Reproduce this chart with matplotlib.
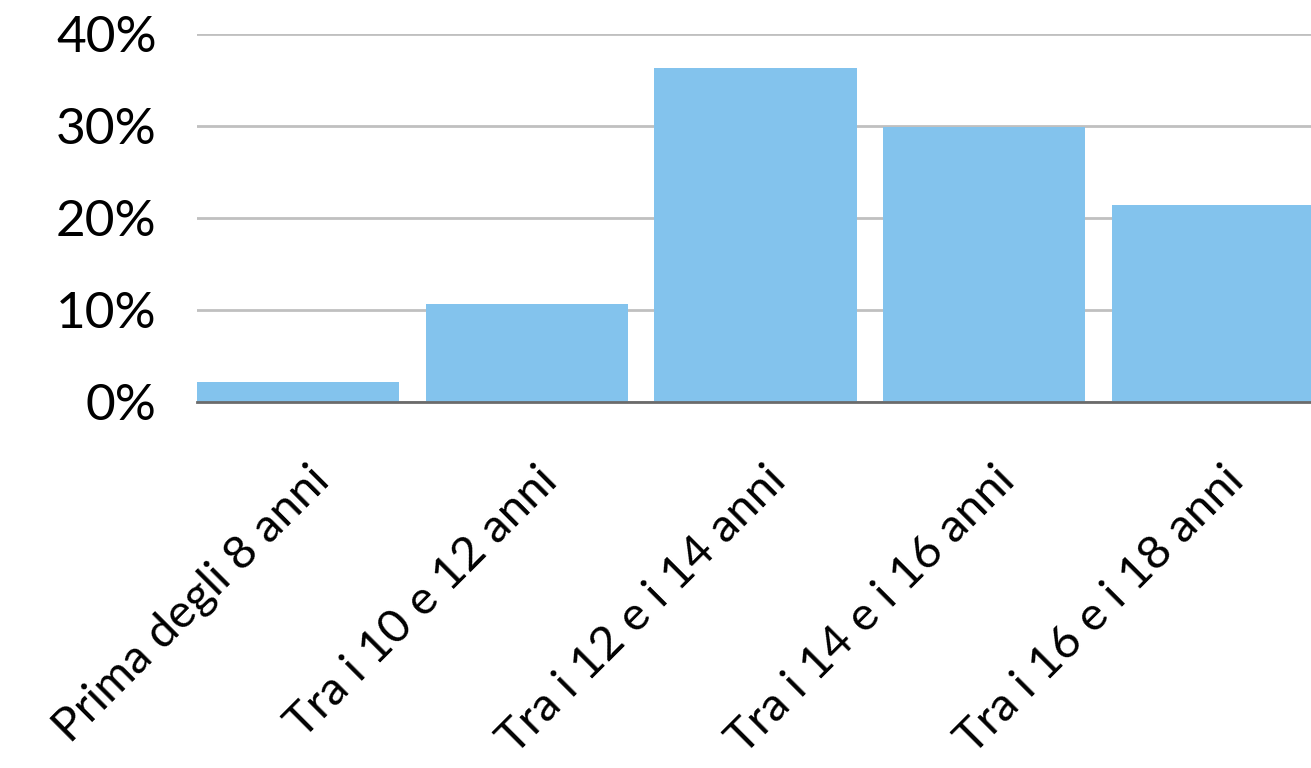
import matplotlib
matplotlib.use("Agg")
import matplotlib.pyplot as plt
from matplotlib.ticker import FuncFormatter
from matplotlib.transforms import ScaledTranslation

categories = [
    "Prima degli 8 anni",
    "Tra i 10 e 12 anni",
    "Tra i 12 e i 14 anni",
    "Tra i 14 e i 16 anni",
    "Tra i 16 e i 18 anni",
]
values = [2.2, 10.7, 36.3, 29.9, 21.4]
y_ticks = [0, 10, 20, 30, 40]

plt.rcParams["font.family"] = ["Lato", "DejaVu Sans"]

fig = plt.figure(figsize=(13.11, 7.68), dpi=100)
ax = fig.add_axes([197 / 1311, 1 - 402 / 768, (1311 - 197) / 1311, (402 - 34) / 768])

x = list(range(len(categories)))
ax.bar(x, values, width=0.885, color="#83C3ED", zorder=2)

ax.set_ylim(0, 40)
ax.set_xlim(-0.443, 4.43)
ax.set_yticks(y_ticks)
ax.yaxis.set_major_formatter(FuncFormatter(lambda v, p: f"{v:.0f}%"))
ax.yaxis.grid(True, color="#c0c0c0", linewidth=2.0, zorder=0)
ax.set_axisbelow(True)

for s in ["top", "right", "left"]:
    ax.spines[s].set_visible(False)
ax.spines["bottom"].set_color("#6b6b6b")
ax.spines["bottom"].set_linewidth(2.0)
ax.spines["bottom"].set_zorder(3)

ax.tick_params(axis="both", length=0)
ax.tick_params(axis="y", labelsize=37, pad=29, colors="black")
ax.set_xticks(x)
ax.set_xticklabels(categories, rotation=45, ha="right", va="baseline",
                   rotation_mode="anchor", fontsize=34)
ax.tick_params(axis="x", pad=0)

# shift the rotated labels so their ends sit right of and below each bar centre
shift = ScaledTranslation(0.33, -0.81, fig.dpi_scale_trans)
for lbl in ax.get_xticklabels():
    lbl.set_transform(lbl.get_transform() + shift)

fig.savefig("out.png", dpi=100, facecolor="white")
